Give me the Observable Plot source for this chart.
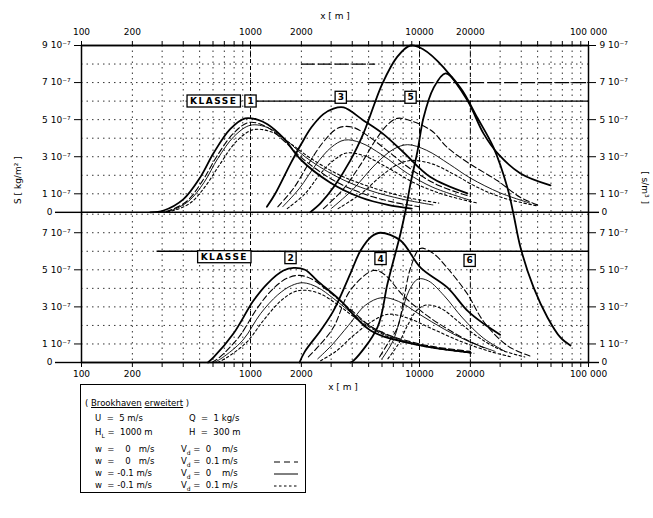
<!DOCTYPE html>
<html><head><meta charset="utf-8">
<script src="https://cdn.jsdelivr.net/npm/d3@7"></script>
<script src="https://cdn.jsdelivr.net/npm/@observablehq/plot@0.6"></script>
<style>
body{margin:0;background:#fff;}
#wrap{position:relative;width:653px;height:518px;background:#fff;font-family:"DejaVu Sans",sans-serif;color:#000;}
#legend{position:absolute;left:80px;top:384px;width:226px;height:109px;border:1.5px solid #000;background:#fff;font-size:8.5px;box-sizing:border-box;}
#legend .r{position:absolute;height:12px;line-height:12px;white-space:nowrap;}
#legend .u{text-decoration:underline;}
</style></head>
<body><div id="wrap"><div id="chart"></div>
<div id="legend">
 <div class="r" style="left:4px;top:12px">( <span class="u">Brookhaven</span> <span class="u">erweitert</span> )</div>
 <div class="r" style="left:14px;top:27px">U&nbsp;&nbsp;=&nbsp;&nbsp;5 m/s</div>
 <div class="r" style="left:108px;top:27px">Q&nbsp;&nbsp;=&nbsp;&nbsp;1 kg/s</div>
 <div class="r" style="left:14px;top:41px">H<sub style="font-size:6px">L</sub>&nbsp;=&nbsp;&nbsp;1000 m</div>
 <div class="r" style="left:108px;top:41px">H&nbsp;&nbsp;=&nbsp;&nbsp;300 m</div>
 <div class="r" style="left:14px;top:58px">w&nbsp;&nbsp;=&nbsp;&nbsp;&nbsp;&nbsp;0&nbsp;&nbsp;&nbsp;m/s</div>
 <div class="r" style="left:100px;top:58px">V<sub style="font-size:6px">d</sub>&nbsp;=&nbsp;&nbsp;0&nbsp;&nbsp;&nbsp;&nbsp;m/s</div>
 <div class="r" style="left:14px;top:70px">w&nbsp;&nbsp;=&nbsp;&nbsp;&nbsp;&nbsp;0&nbsp;&nbsp;&nbsp;m/s</div>
 <div class="r" style="left:100px;top:70px">V<sub style="font-size:6px">d</sub>&nbsp;=&nbsp;&nbsp;0.1&nbsp;m/s</div>
 <svg class="r" style="left:192px;top:70px" width="26" height="12"><line x1="1" y1="7" x2="25" y2="7" stroke="#000" stroke-width="1.2" stroke-dasharray="6,4"/></svg>
 <div class="r" style="left:14px;top:82px">w&nbsp;&nbsp;=&nbsp;-0.1 m/s</div>
 <div class="r" style="left:100px;top:82px">V<sub style="font-size:6px">d</sub>&nbsp;=&nbsp;&nbsp;0&nbsp;&nbsp;&nbsp;&nbsp;m/s</div>
 <svg class="r" style="left:192px;top:82px" width="26" height="12"><line x1="1" y1="7" x2="25" y2="7" stroke="#000" stroke-width="1"/></svg>
 <div class="r" style="left:14px;top:94px">w&nbsp;&nbsp;=&nbsp;-0.1 m/s</div>
 <div class="r" style="left:100px;top:94px">V<sub style="font-size:6px">d</sub>&nbsp;=&nbsp;&nbsp;0.1&nbsp;m/s</div>
 <svg class="r" style="left:192px;top:94px" width="26" height="12"><line x1="1" y1="7" x2="25" y2="7" stroke="#000" stroke-width="1.2" stroke-dasharray="2.5,2.5"/></svg>
</div>
</div>
<script>
// ---- offset of upper panel baseline (in lower-panel units) ----
const OFF = 8.1;

// ---- tick labels ----
const xTicks = [100, 200, 500, 1000, 2000, 5000, 10000, 20000, 50000, 100000];
const xTickLabels = ["100", "200", "500", "1000", "2000", "5000", "10000", "20000", "50000", "100 000"];
const yUpperTicks = [1, 3, 5, 7, 9];
const yUpperLabels = ["1 10⁻⁷", "3 10⁻⁷", "5 10⁻⁷", "7 10⁻⁷", "9 10⁻⁷"];
const yLowerTicks = [1, 3, 5, 7];
const yLowerLabels = ["1 10⁻⁷", "3 10⁻⁷", "5 10⁻⁷", "7 10⁻⁷"];

// ---- upper panel: Klasse 1, 3, 5  (x [m], value) ----
const k1a = [[255,0],[306,0.1],[400,0.7],[505,1.9],[605,3.2],[760,4.5],[930,5.07],[1100,5.0],[1260,4.75],[1570,4.0],[1980,2.85],[2970,1.6],[4500,0.8],[6500,0.4],[9000,0.2]];
const k1b = [[280,0],[330,0.1],[420,0.6],[520,1.7],[630,3.0],[790,4.25],[980,4.85],[1250,4.6],[1600,3.8],[2000,2.95],[3000,1.8],[4500,1.05],[7000,0.55],[10000,0.3]];
const k1c = [[290,0],[340,0.1],[430,0.6],[530,1.6],[640,2.9],[800,4.1],[1000,4.7],[1280,4.55],[1650,3.85],[2100,3.0],[3200,1.95],[5000,1.2],[8000,0.7],[12000,0.4]];
const k1d = [[300,0],[350,0.1],[440,0.5],[540,1.4],[660,2.6],[820,3.8],[1030,4.45],[1320,4.35],[1700,3.75],[2200,3.0],[3300,2.05],[5200,1.35],[8500,0.8],[13000,0.5]];

const k3a = [[1250,0.3],[1400,1.0],[1720,2.6],[2000,3.7],[2300,4.6],[2700,5.3],[3100,5.6],[3560,5.66],[4660,4.96],[6040,4.26],[8030,3.24],[11600,1.9],[19200,1.02]];
const k3b = [[1450,0.3],[1800,1.3],[2200,2.6],[2700,3.8],[3300,4.55],[4000,4.6],[5000,4.1],[6500,3.3],[9000,2.3],[13000,1.45],[20000,0.85]];
const k3c = [[1550,0.3],[1950,1.3],[2450,2.6],[3000,3.5],[3600,3.9],[4500,3.75],[6000,3.1],[8500,2.1],[12000,1.35],[20000,0.65]];
const k3d = [[1650,0.2],[2100,1.0],[2600,2.1],[3100,2.8],[3700,3.2],[4700,3.05],[6500,2.4],[9500,1.55],[14000,0.95],[22000,0.5]];

const k5a = [[2250,0],[2600,0.5],[3100,1.35],[3900,2.8],[4660,4.26],[6040,6.96],[7400,8.4],[8850,9.0],[10500,8.8],[13870,7.82],[19200,6.04],[23900,4.26],[29000,3.18],[39600,2.1],[59600,1.46]];
const k5b = [[2700,0.2],[3500,1.2],[4500,2.6],[5500,3.9],[6500,4.75],[7400,5.07],[8800,4.95],[11800,4.4],[14600,3.5],[19200,2.7],[29000,1.7],[39600,0.8],[50000,0.4]];
const k5c = [[3000,0.2],[4000,1.2],[5500,2.6],[7000,3.4],[8500,3.65],[11000,3.35],[15000,2.6],[20000,1.85],[30000,1.05],[45000,0.5]];
const k5d = [[3300,0.2],[4500,1.0],[6000,2.0],[7500,2.6],[9000,2.8],[12000,2.6],[16000,2.05],[22000,1.35],[32000,0.75],[50000,0.35]];

// ---- lower panel: Klasse 2, 4, 6 ----
const k2a = [[560,0],[604,0.27],[793,1.56],[1042,3.34],[1260,4.26],[1567,4.96],[1800,5.1],[2100,5.0],[2490,4.4],[3410,3.34],[5130,1.73],[10140,0.92],[20000,0.54]];
const k2b = [[590,0],[650,0.25],[850,1.35],[1100,2.95],[1350,3.95],[1650,4.55],[1950,4.7],[2300,4.5],[2800,3.95],[3800,2.95],[5500,1.8],[10000,1.0],[20000,0.6]];
const k2c = [[610,0],[680,0.25],[900,1.2],[1150,2.65],[1450,3.65],[1750,4.15],[2050,4.3],[2500,4.05],[3100,3.45],[4200,2.5],[6000,1.6],[10000,0.95],[20000,0.55]];
const k2d = [[640,0],[720,0.25],[950,1.1],[1200,2.3],[1500,3.3],[1800,3.8],[2100,3.9],[2600,3.7],[3300,3.1],[4500,2.2],[6500,1.4],[11000,0.85],[21000,0.5]];

const k4a = [[1950,0],[2100,0.6],[2600,1.73],[3100,2.8],[3900,4.8],[4480,6.04],[5200,6.8],[5880,7.0],[7720,6.58],[10140,5.12],[14600,4.05],[19200,2.8],[23900,2.1],[30000,1.5]];
const k4b = [[2200,0.3],[2600,1.0],[3100,1.9],[3900,3.9],[5330,4.96],[6200,4.75],[8030,3.6],[11600,2.4],[19200,1.2],[24000,0.8]];
const k4c = [[2500,0.2],[3000,0.9],[3800,2.0],[4800,3.1],[6000,3.5],[7500,3.3],[10000,2.6],[14000,1.8],[20000,1.1],[28000,0.6]];
const k4d = [[2600,0.1],[3200,0.6],[4000,1.4],[5200,2.2],[6500,2.6],[8500,2.4],[12000,1.8],[18000,1.1],[26000,0.6],[35000,0.3]];

const k6a = [[3900,0],[4070,0.1],[5640,1.9],[6470,4.26],[7720,6.96],[8270,8.2],[8850,9.65],[9730,11.4],[10560,13.2],[12100,14.8],[14250,15.6],[17500,14.8],[22000,13.2],[27400,11.6],[33200,9.4],[36000,8.0],[39600,6.2],[47300,4.05],[57200,2.43],[68200,1.35],[78200,0.92]];
const k6b = [[5800,0.3],[6470,1.0],[7420,1.9],[8030,3.3],[8850,5.1],[10100,6.15],[12000,5.9],[14600,5.1],[19200,3.7],[24000,2.2],[33200,0.9],[45000,0.35]];
const k6c = [[6000,0.2],[7000,1.2],[7800,2.6],[8700,3.9],[9800,4.5],[11300,4.4],[14000,3.6],[18000,2.4],[24000,1.3],[32000,0.6]];
const k6d = [[6500,0.2],[7500,1.0],[8500,2.0],[9600,2.8],[11000,3.1],[13500,2.9],[17000,2.2],[22000,1.4],[30000,0.7],[42000,0.3]];

// ---- class label boxes ----
const boxText  = ["KLASSE", "1", "3", "5", "KLASSE", "2", "4", "6"];
const boxX     = [606, 1000, 3420, 8850, 700, 1725, 5880, 19800];
const boxV     = [6.0, 6.0, 6.2, 6.2, 5.7, 5.65, 5.6, 5.5];
const boxPanel = ["upper","upper","upper","upper","lower","lower","lower","lower"];

// ---- solid class lines (panel, value, from x, to x) ----
const classLinePanel = ["upper", "lower"];
const classLineV     = [6, 6];
const classLineX1    = [1000, 280];
const classLineX2    = [100000, 100000];
// ---- broken helper lines ----
const auxLinePanel = ["upper", "upper"];
const auxLineV     = [8, 7];
const auxLineX1    = [2000, 5000];
const auxLineX2    = [5500, 100000];

// ---- build tables ----
const toY = (panel, v) => v + (panel === "upper" ? OFF : 0);
const curves = [
  ["k1a","upper","thick",k1a],["k1b","upper","dashed",k1b],["k1c","upper","thin",k1c],["k1d","upper","dotdash",k1d],
  ["k3a","upper","thick",k3a],["k3b","upper","dashed",k3b],["k3c","upper","thin",k3c],["k3d","upper","dotdash",k3d],
  ["k5a","upper","thick",k5a],["k5b","upper","dashed",k5b],["k5c","upper","thin",k5c],["k5d","upper","dotdash",k5d],
  ["k2a","lower","thick",k2a],["k2b","lower","dashed",k2b],["k2c","lower","thin",k2c],["k2d","lower","dotdash",k2d],
  ["k4a","lower","thick",k4a],["k4b","lower","dashed",k4b],["k4c","lower","thin",k4c],["k4d","lower","dotdash",k4d],
  ["k6a","lower","thick",k6a],["k6b","lower","dashed",k6b],["k6c","lower","thin",k6c],["k6d","lower","dotdash",k6d]
];
const rows = curves.flatMap(([id, panel, style, pts]) => pts.map(([x, v]) => ({id, style, x, y: toY(panel, v)})));
const styleOpts = {
  thick:   {strokeWidth: 1.8},
  dashed:  {strokeWidth: 1.1, strokeDasharray: "6,3"},
  thin:    {strokeWidth: 0.9},
  dotdash: {strokeWidth: 1.1, strokeDasharray: "2.5,2.5"}
};
const boxes = boxText.map((t, i) => ({text: t, x: boxX[i], y: toY(boxPanel[i], boxV[i])}));
const classLines = classLineV.map((v, i) => ({y: toY(classLinePanel[i], v), x1: classLineX1[i], x2: classLineX2[i]}));
const auxLines = auxLineV.map((v, i) => ({y: toY(auxLinePanel[i], v), x1: auxLineX1[i], x2: auxLineX2[i]}));

const xAll = [];
for (let e = 100; e < 100000; e *= 10) for (let m = 1; m < 10; m++) xAll.push(m * e);
xAll.push(100000);
const xLab = new Map(xTicks.map((v, i) => [v, xTickLabels[i]]));

const yGrid = [];
for (let v = 1; v <= 8; v++) yGrid.push(v);
for (let v = 1; v <= 9; v++) yGrid.push(v + OFF);
const yTicks = [...yLowerTicks, ...yUpperTicks.map(v => v + OFF)];
const yLab = new Map([...yLowerTicks.map((v, i) => [v, yLowerLabels[i]]), ...yUpperTicks.map((v, i) => [v + OFF, yUpperLabels[i]])]);

const fmtX = d => xLab.get(d) ?? "";
const fmtY = d => yLab.get(d) ?? "";

const chart = Plot.plot({
  width: 653, height: 400,
  marginLeft: 81, marginRight: 65, marginTop: 45, marginBottom: 38,
  style: {fontFamily: "DejaVu Sans, sans-serif", fontSize: "9px", background: "white", color: "black"},
  x: {type: "log", domain: [100, 100000]},
  y: {domain: [0, 2 * OFF + 0.9]},
  marks: [
    Plot.gridX(xAll, {stroke: "#000", strokeOpacity: 0.8, strokeDasharray: "1.5,4"}),
    Plot.gridY(yGrid, {stroke: "#000", strokeOpacity: 0.8, strokeDasharray: "1.5,4"}),
    Plot.gridX([1000, 10000, 20000], {stroke: "#000", strokeOpacity: 1, strokeDasharray: "4,3"}),
    Plot.ruleY(auxLines, {y: "y", x1: "x1", x2: "x2", strokeWidth: 1.2, strokeDasharray: "14,3"}),
    Plot.ruleY(classLines, {y: "y", x1: "x1", x2: "x2", strokeWidth: 1.4}),
    Plot.ruleY([0, OFF, 2 * OFF + 0.9], {strokeWidth: 1.5}),
    Plot.frame({strokeWidth: 1.5}),
    ...Object.entries(styleOpts).map(([s, o]) =>
      Plot.line(rows.filter(r => r.style === s), {x: "x", y: "y", z: "id", stroke: "#000", curve: "catmull-rom", ...o})),
    Plot.axisX({anchor: "top", ticks: xAll, tickFormat: fmtX, tickSize: 5, tickPadding: 6, label: null}),
    Plot.axisX({anchor: "bottom", ticks: xAll, tickFormat: fmtX, tickSize: 5, tickPadding: 3, label: null}),
    Plot.axisY({anchor: "left", ticks: yTicks, tickFormat: fmtY, tickSize: 7, tickPadding: 4, label: null}),
    Plot.axisY({anchor: "right", ticks: yTicks, tickFormat: fmtY, tickSize: 7, tickPadding: 4, label: null}),
    Plot.axisY({anchor: "left", ticks: [0, OFF], tickFormat: () => "0", tickSize: 26, tickPadding: 3, strokeWidth: 1.4, label: null}),
    Plot.axisY({anchor: "right", ticks: [0, OFF], tickFormat: () => "0", tickSize: 10, tickPadding: 3, strokeWidth: 1.4, label: null}),
    Plot.text(["x [ m ]"], {frameAnchor: "top", dy: -33, text: d => d}),
    Plot.text(["x [ m ]"], {frameAnchor: "bottom", dy: 27, dx: 8, text: d => d}),
    Plot.text(["S [ kg/m² ]"], {frameAnchor: "left", dx: -63, rotate: -90, text: d => d}),
    Plot.text(["[ s/m³ ]"], {frameAnchor: "right", dx: 56, rotate: 90, text: d => d}),
    Plot.text(boxes, {x: "x", y: "y", text: "text", fontSize: 9, fontWeight: "bold"})
  ]
});
document.getElementById("chart").appendChild(chart);

// draw boxes around the class labels
const ns = "http://www.w3.org/2000/svg";
const boxSet = new Set(boxText);
chart.querySelectorAll("text").forEach(t => {
  if (!boxSet.has(t.textContent)) return;
  if (!t.closest('[font-weight="bold"]')) return;
  if (t.textContent === "KLASSE") t.setAttribute("letter-spacing", "1.5");
  const bb = t.getBBox();
  const r = document.createElementNS(ns, "rect");
  const pad = t.textContent === "KLASSE" ? 3 : 2.5;
  r.setAttribute("x", bb.x - pad);
  r.setAttribute("y", bb.y - 1);
  r.setAttribute("width", bb.width + 2 * pad);
  r.setAttribute("height", bb.height + 2);
  r.setAttribute("fill", "white");
  r.setAttribute("stroke", "black");
  r.setAttribute("stroke-width", "1.3");
  if (t.getAttribute("transform")) r.setAttribute("transform", t.getAttribute("transform"));
  t.parentNode.insertBefore(r, t);
});
</script>
</body></html>
